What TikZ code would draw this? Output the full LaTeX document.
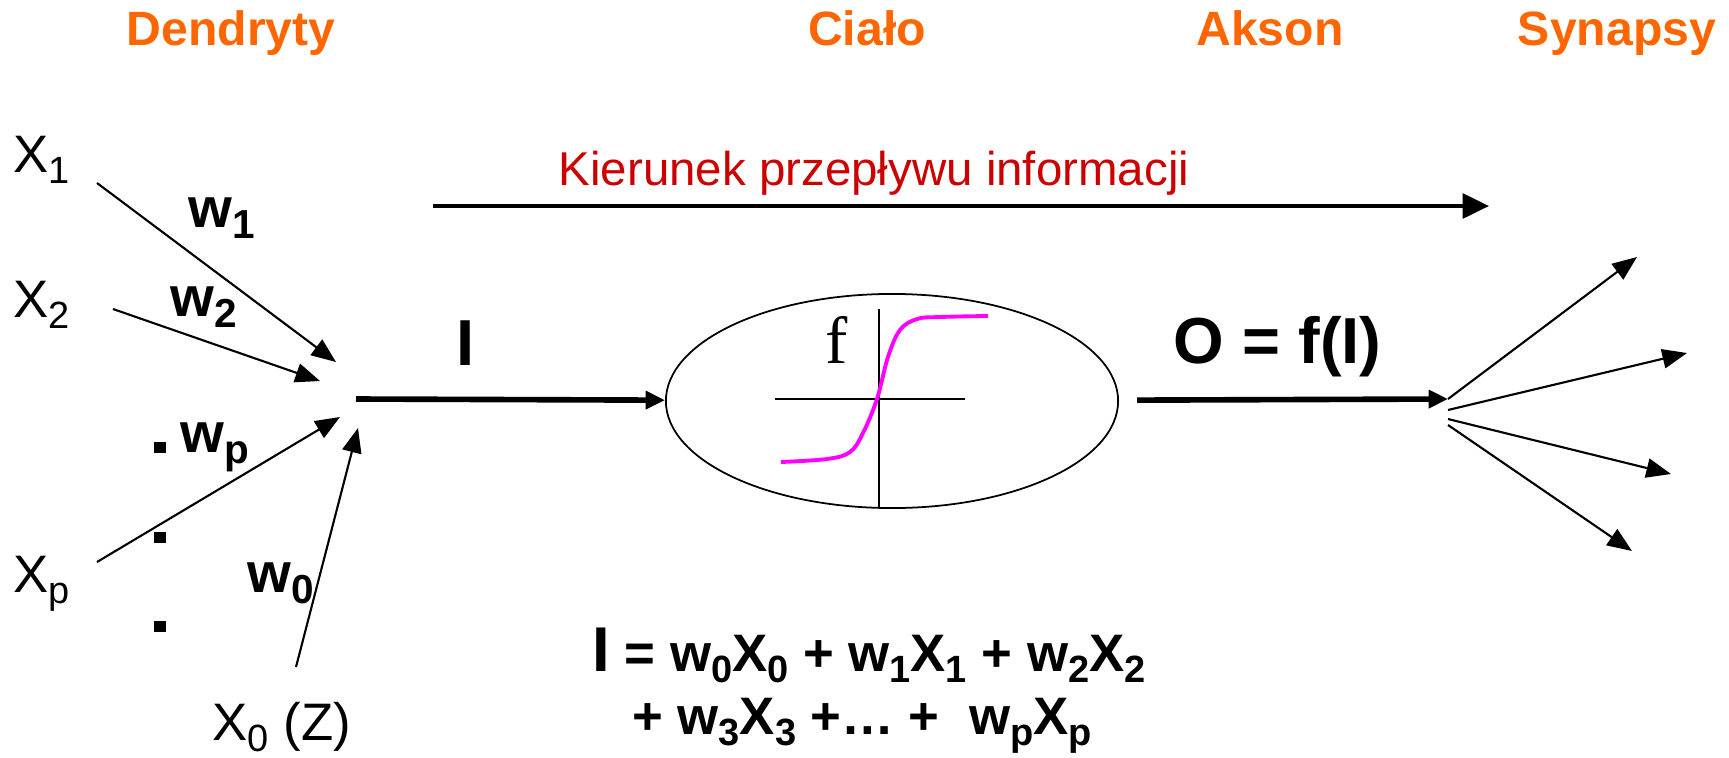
\documentclass[tikz,border=0pt]{standalone}
\usepackage{fontspec}
\setmainfont{Liberation Sans}
\newfontfamily\timesfont{Liberation Serif}
\usetikzlibrary{shapes.geometric, arrows.meta}
\definecolor{dendorange}{HTML}{FF6600}
\definecolor{flowred}{HTML}{CC0000}
\definecolor{sigmagenta}{HTML}{FF00FF}
\newcommand{\sub}[1]{\raisebox{-0.21em}{\scalebox{0.72}{#1}}}

\begin{document}
\begin{tikzpicture}[x=0.01cm, y=-0.01cm,
  partlabel/.style={font=\fontsize{13.7}{16}\selectfont\bfseries, text=dendorange,
                    anchor=base, inner sep=0pt},
  inputlabel/.style={font=\fontsize{15}{18}\selectfont, anchor=base west, inner sep=0pt},
  weightlabel/.style={font=\fontsize{16}{19}\selectfont\bfseries, anchor=base west,
                      inner sep=0pt},
  signallabel/.style={font=\fontsize{18.5}{22}\selectfont\bfseries, anchor=base,
                      inner sep=0pt},
  formulaline/.style={font=\fontsize{15}{18}\selectfont\bfseries, anchor=base,
                      inner sep=0pt},
  ellipsisdot/.style={rectangle, fill=black, minimum size=0.11cm, inner sep=0pt},
  dend/.style={-{Triangle[length=7pt, width=5.5pt]}, line width=0.6pt},
  flow/.style={-{Triangle[length=5.5pt, width=5pt]}, line width=1.6pt}
]
\useasboundingbox (0,0) rectangle (1729,757);

\node[partlabel] (dendryty) at (231,45) {Dendryty};
\node[partlabel] (cialolbl) at (867,45) {Ciało};
\node[partlabel] (akson) at (1270,45) {Akson};
\node[partlabel] (synapsy) at (1617,45) {Synapsy};

\node[font=\fontsize{13.5}{16}\selectfont, text=flowred, anchor=base, inner sep=0pt]
  (kierunek) at (874,185) {Kierunek przepływu informacji};

\node[inputlabel] (x1) at (13,172) {X\sub1};
\node[inputlabel] (x2) at (13,317) {X\sub2};
\node[inputlabel] (xp) at (13,592) {X\sub{p}};
\node[inputlabel] (x0) at (212,740) {X\sub0 (Z)};

\node[weightlabel] (w1) at (188,227) {w\sub1};
\node[weightlabel] (w2) at (170,316) {w\sub2};
\node[weightlabel] (wp) at (180,452) {w\sub{p}};
\node[weightlabel] (w0) at (247,592) {w\sub0};

\node[ellipsisdot] (dot1) at (160,447) {};
\node[ellipsisdot] (dot2) at (160,537) {};
\node[ellipsisdot] (dot3) at (160,626) {};

\node[signallabel] (ilabel) at (466,365) {I};
\node[signallabel, anchor=base west] (output) at (1173,363) {O = f(I)};

\node[draw, ellipse, line width=0.5pt, minimum width=4.52cm, minimum height=2.14cm,
      inner sep=0pt] (cialo) at (892,401) {};
\node[font=\timesfont\fontsize{19}{22}\selectfont, anchor=base west, inner sep=0pt]
  (flabel) at (825,363) {f};

\node[formulaline] (sum1) at (869,671)
  {{\fontsize{18}{18}\selectfont I} = w\sub0X\sub0 + w\sub1X\sub1 + w\sub2X\sub2};
\node[formulaline] (sum2) at (862,734)
  {+ w\sub3X\sub3 +… +\ \ w\sub{p}X\sub{p}};

\coordinate (s1) at (97,183);   \coordinate (t1) at (336,362);
\coordinate (s2) at (113,309);  \coordinate (t2) at (320,381);
\coordinate (sp) at (97,562);   \coordinate (tp) at (340,417);
\coordinate (s0) at (296,667);  \coordinate (t0) at (358,428);
\coordinate (sum) at (356,399);
\coordinate (synapse) at (1448,399);
\coordinate (kstart) at (433,206);
\coordinate (kend) at (1489,206);
\coordinate (a1) at (1448,410);
\coordinate (a2) at (1448,419);
\coordinate (a3) at (1448,425);
\coordinate (b0) at (1637,257);
\coordinate (b1) at (1687,353);
\coordinate (b2) at (1671,474);
\coordinate (b3) at (1632,551);

\draw[dend] (s1) -- (t1);
\draw[dend] (s2) -- (t2);
\draw[dend] (sp) -- (tp);
\draw[dend] (s0) -- (t0);

\draw[flow] (sum) -- (cialo);
\draw[flow, shorten <=0.18cm] (cialo) -- (synapse);
\draw[-{Triangle[length=7.5pt, width=7pt]}, line width=1.2pt] (kstart) -- (kend);

\draw[dend] (synapse) -- (b0);
\draw[dend] (a1) -- (b1);
\draw[dend] (a2) -- (b2);
\draw[dend] (a3) -- (b3);

\draw[line width=0.4pt] (775,399) -- (965,399);
\draw[line width=0.4pt] (879,309) -- (879,508);
\draw[sigmagenta, line width=1.1pt] plot[smooth, tension=0.6] coordinates
  {(781,462) (827,459) (850,452) (863,433) (877,399) (888,357) (900,330)
   (917,319) (940,317) (988,316)};

\end{tikzpicture}
\end{document}
